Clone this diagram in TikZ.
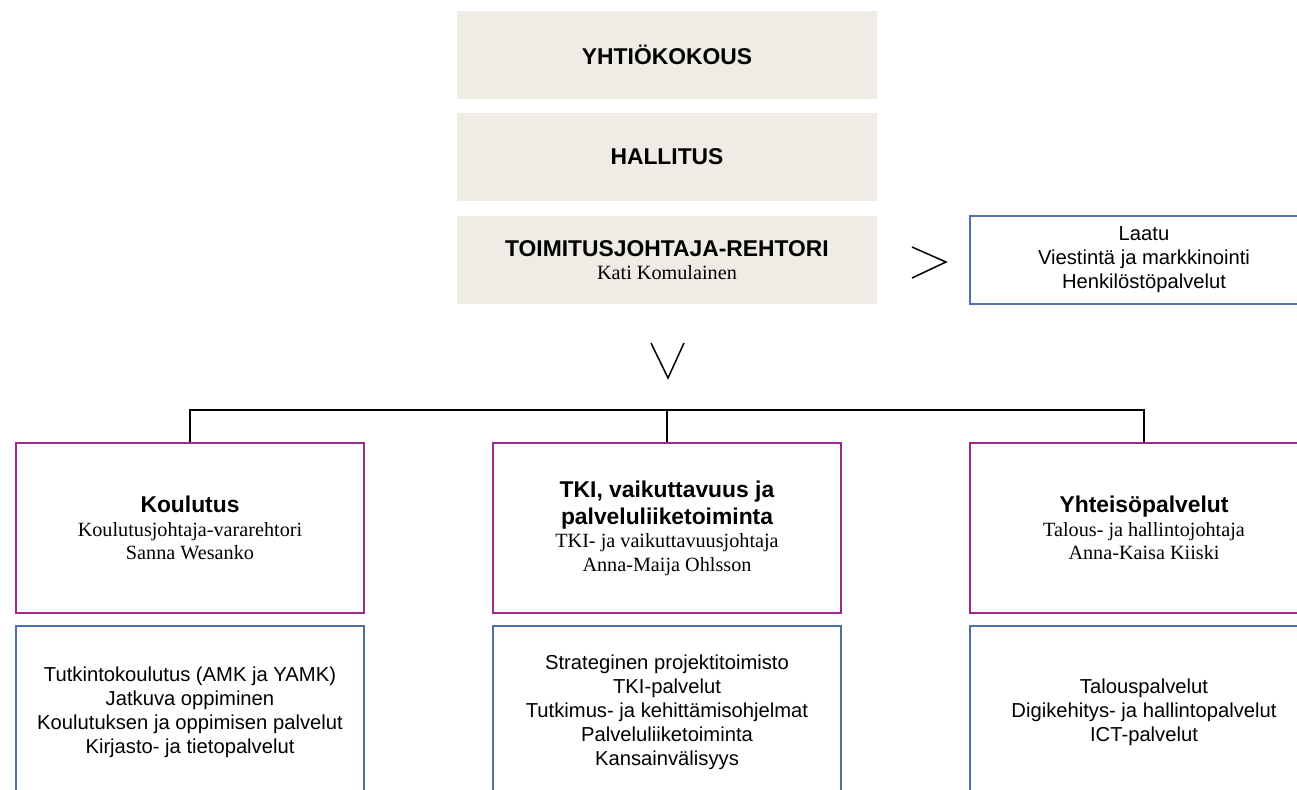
\documentclass[tikz,border=0pt]{standalone}
\usepackage{fontspec}
\setmainfont{Liberation Serif}
\setsansfont{Liberation Sans}

\definecolor{beige}{HTML}{EFECE6}
\definecolor{violetti}{HTML}{9C2A8F}
\definecolor{sininen}{HTML}{4D72A3}

\newcommand{\otsikko}[1]{{\sffamily\bfseries\fontsize{13}{15.4}\selectfont #1}}
\newcommand{\nimi}[1]{{\rmfamily\fontsize{11.5}{13}\selectfont #1}}

\begin{document}
\begin{tikzpicture}[
    ylin/.style={fill=beige, minimum width=8.4cm, minimum height=1.76cm, inner sep=0pt, align=center,
        font=\fontsize{11.5}{13.4}\selectfont},
    yksikko/.style={draw=violetti, line width=0.04cm, minimum width=6.96cm, minimum height=3.40cm, inner sep=0pt, align=center,
        font=\fontsize{11.5}{13.4}\selectfont},
    palvelut/.style={draw=sininen, line width=0.04cm, minimum width=6.96cm, minimum height=3.44cm, inner sep=0pt, align=center,
        font=\sffamily\fontsize{11.5}{13.7}\selectfont},
    ]

    \useasboundingbox (0,0) rectangle (25.94,-15.78);

    % --- ylin johto ---
    \node[ylin] (yhtiokokous) at (13.34,-1.10) {\otsikko{YHTIÖKOKOUS}};
    \node[ylin] (hallitus) at (13.34,-3.14) {\otsikko{HALLITUS}};
    \node[ylin] (rehtori) at (13.34,-5.20) {\otsikko{TOIMITUSJOHTAJA-REHTORI}\\ \nimi{Kati Komulainen}};

    % rehtorin tukipalvelut
    \node[palvelut, minimum height=1.76cm] (tuki) at (22.88,-5.20) {Laatu\\ Viestintä ja markkinointi\\ Henkilöstöpalvelut};

    % --- nuolet (>) ja (V) ---
    \draw[line width=0.03cm] (18.24,-4.94) -- (18.92,-5.24) -- (18.24,-5.56);
    \draw[line width=0.03cm] (13.02,-6.86) -- (13.36,-7.56) -- (13.68,-6.86);

    % --- yksiköt ---
    \node[yksikko] (koulutus) at (3.80,-10.56) {\otsikko{Koulutus}\\ \nimi{Koulutusjohtaja-vararehtori}\\ \nimi{Sanna Wesanko}};
    \node[yksikko] (tki) at (13.34,-10.56) {\otsikko{TKI, vaikuttavuus ja}\\[2pt] \otsikko{palveluliiketoiminta}\\ \nimi{TKI- ja vaikuttavuusjohtaja}\\ \nimi{Anna-Maija Ohlsson}};
    \node[yksikko] (yhteiso) at (22.88,-10.56) {\otsikko{Yhteisöpalvelut}\\ \nimi{Talous- ja hallintojohtaja}\\ \nimi{Anna-Kaisa Kiiski}};

    % haarautuva viiva
    \coordinate (haara) at (13.34,-8.20);
    \draw[line width=0.04cm] (koulutus.north) |- (haara) -| (yhteiso.north);
    \draw[line width=0.04cm] (haara) -- (tki.north);

    % --- palvelut ---
    \node[palvelut] (koulutuspalvelut) at (3.80,-14.24) {Tutkintokoulutus (AMK ja YAMK)\\ Jatkuva oppiminen\\ Koulutuksen ja oppimisen palvelut\\ Kirjasto- ja tietopalvelut};
    \node[palvelut] (tkipalvelut) at (13.34,-14.24) {Strateginen projektitoimisto\\ TKI-palvelut\\ Tutkimus- ja kehittämisohjelmat\\ Palveluliiketoiminta\\ Kansainvälisyys};
    \node[palvelut] (yhteisopalvelut) at (22.88,-14.24) {Talouspalvelut\\ Digikehitys- ja hallintopalvelut\\ ICT-palvelut};

\end{tikzpicture}
\end{document}
